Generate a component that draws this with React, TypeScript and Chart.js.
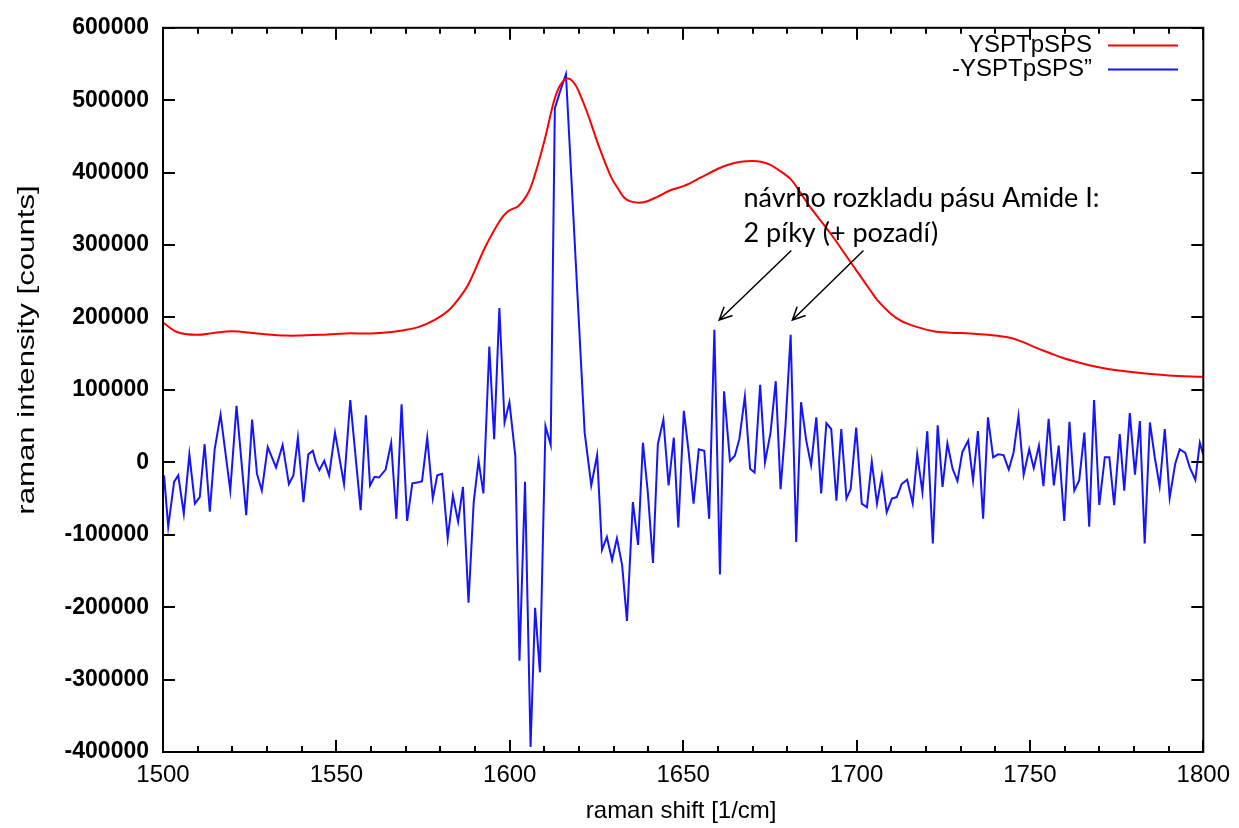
import React, { useEffect, useRef } from 'react';
import { Chart, registerables } from 'chart.js';

Chart.register(...registerables);

// ---- data ----
const seriesLabels = ['YSPTpSPS', '-YSPTpSPS\u201D'];
const seriesColors = ['rgb(255,0,0)', 'rgb(20,20,255)'];

const redX = [1500, 1504, 1509.7, 1515, 1520, 1527, 1535.5, 1545, 1552.7, 1560, 1566, 1569, 1573.8, 1578.5, 1582.4, 1585.3, 1588.2, 1592.9, 1597.2, 1599.6, 1602.5, 1605.4, 1607.3, 1610.2, 1613, 1615, 1616.9, 1618.8, 1620.7, 1623, 1625.5, 1629.3, 1631.2, 1633.1, 1635, 1638.5, 1642.7, 1646, 1650.4, 1655, 1659.9, 1663, 1666.6, 1670, 1672.4, 1675, 1677.1, 1681, 1684, 1686.7, 1692.5, 1698.2, 1703.9, 1706, 1709.7, 1713, 1717.3, 1722.2, 1727, 1732.8, 1738, 1744.2, 1748, 1751.9, 1755.7, 1759.6, 1764, 1769.1, 1775, 1782.5, 1790, 1800];
const redY = [193000, 180000, 176000, 179000, 181000, 178000, 175000, 176000, 178000, 178000, 180000, 182000, 187000, 197000, 210000, 226000, 247000, 297000, 334000, 347000, 354000, 373000, 398000, 448000, 503000, 524000, 530000, 522000, 503000, 474000, 439000, 393000, 378000, 365000, 360000, 359000, 367000, 375000, 382000, 393000, 405000, 411000, 415000, 416000, 415000, 411000, 405000, 391000, 371000, 352000, 316000, 277000, 238000, 224000, 206000, 195000, 187000, 181000, 179000, 178000, 176000, 172000, 166000, 158000, 151000, 144000, 138000, 132000, 127000, 123000, 120000, 118000];

const blueX = [1500.3, 1501.5, 1503.2, 1504.4, 1506.0, 1507.6, 1509.2, 1510.6, 1512.0, 1513.5, 1514.9, 1516.6, 1519.4, 1521.2, 1524.0, 1525.7, 1527.1, 1528.5, 1530.2, 1532.6, 1534.5, 1536.3, 1537.6, 1538.9, 1540.5, 1541.9, 1543.2, 1544.1, 1545.1, 1546.5, 1547.9, 1549.6, 1552.2, 1554.0, 1557.0, 1558.5, 1559.7, 1561.0, 1562.3, 1564.2, 1565.8, 1567.3, 1568.8, 1570.4, 1571.9, 1573.3, 1574.7, 1576.2, 1577.8, 1579.1, 1580.5, 1582.1, 1583.6, 1585.1, 1586.5, 1588.1, 1589.6, 1591.0, 1592.4, 1594.1, 1595.5, 1597.0, 1598.5, 1599.9, 1601.6, 1602.8, 1604.4, 1606.0, 1607.3, 1608.7, 1610.3, 1611.8, 1613.0, 1614.5, 1616.2, 1621.6, 1623.5, 1625.2, 1626.6, 1628.0, 1629.5, 1630.9, 1632.4, 1633.8, 1635.5, 1637.0, 1638.4, 1639.8, 1641.3, 1642.7, 1644.3, 1645.8, 1647.3, 1648.6, 1650.2, 1651.6, 1653.0, 1654.5, 1656.1, 1657.5, 1659.0, 1660.6, 1661.8, 1663.5, 1664.9, 1666.2, 1667.8, 1669.3, 1670.6, 1672.2, 1673.6, 1675.2, 1676.7, 1678.1, 1679.5, 1681.0, 1682.6, 1684.0, 1685.5, 1686.9, 1688.4, 1689.8, 1691.3, 1692.7, 1694.2, 1695.6, 1697.1, 1698.3, 1699.9, 1701.5, 1703.0, 1704.4, 1705.9, 1707.3, 1708.7, 1710.2, 1711.6, 1713.0, 1714.6, 1716.2, 1717.5, 1719.0, 1720.4, 1722.0, 1723.4, 1724.8, 1726.2, 1727.7, 1729.1, 1730.5, 1732.2, 1733.6, 1735.0, 1736.5, 1737.9, 1739.4, 1740.8, 1742.4, 1743.9, 1745.3, 1746.7, 1748.2, 1749.8, 1751.1, 1752.6, 1753.9, 1755.4, 1756.9, 1758.3, 1759.9, 1761.4, 1762.8, 1764.2, 1765.7, 1767.1, 1768.5, 1770.0, 1771.6, 1772.9, 1774.3, 1775.9, 1777.2, 1778.8, 1780.3, 1781.7, 1783.1, 1784.6, 1786.0, 1787.4, 1788.9, 1790.3, 1791.9, 1793.2, 1794.8, 1796.1, 1797.7, 1799.0, 1800.0];
const blueY = [-18000, -89000, -27000, -18000, -71000, 11000, -57000, -48000, 25000, -68000, 18000, 66000, -39000, 78000, -73000, 59000, -16000, -39000, 21000, -7000, 24000, -30000, -18000, 34000, -55000, 11000, 16000, 0, -11000, 2000, -18000, 41000, -30000, 86000, -66000, 65000, -32000, -20000, -21000, -10000, 27000, -78000, 80000, -81000, -29000, -28000, -26000, 34000, -50000, -18000, -16000, -105000, -46000, -82000, -34000, -194000, -55000, 2000, -43000, 160000, 32000, 213000, 55000, 83000, 9000, -274000, -27000, -393000, -201000, -290000, 50000, 24000, 489000, 512000, 536000, 41000, -32000, 10000, -121000, -103000, -135000, -105000, -142000, -219000, -55000, -114000, 27000, -41000, -139000, 25000, 59000, -32000, 34000, -90000, 71000, 14000, -57000, 18000, 16000, -78000, 183000, -155000, 98000, 2000, 9000, 32000, 91000, -9000, -14000, 107000, 0, 41000, 112000, -37000, 50000, 176000, -110000, 83000, 30000, -4000, 62000, -43000, 54000, 46000, -53000, 46000, -50000, -37000, 48000, -57000, -62000, 1000, -57000, -18000, -69000, -50000, -48000, -30000, -24000, -57000, 11000, -41000, 43000, -112000, 51000, -34000, 26000, -9000, -26000, 14000, 30000, -25000, 43000, -78000, 62000, 7000, 11000, 10000, -10000, 14000, 64000, -17000, 18000, -8000, 23000, -33000, 60000, -32000, 23000, -81000, 56000, -39000, -25000, 41000, -89000, 86000, -59000, 7000, 7000, -59000, 39000, -39000, 68000, -17000, 57000, -112000, 55000, 7000, -33000, 46000, -49000, -2000, 18000, 13000, -7000, -24000, 27000, 10000];

const xRange = [1500, 1800];
const yRange = [-400000, 600000];
const xMajorStep = 50;
const xMinorStep = 10;
const yMajorStep = 100000;

const xTitle = 'raman shift [1/cm]';
const yTitle = 'raman intensity [counts]';
const annotationLines = ['n\u00E1vrho rozkladu p\u00E1su Amide I:', '2 p\u00EDky (+ pozad\u00ED)'];

const FONT = '"Liberation Sans", Arial, sans-serif';

const decorPlugin = {
  id: 'decor',
  afterDatasetsDraw(chart: any) {
    const { ctx, chartArea: a, scales } = chart;
    const xs = scales.x;
    const ys = scales.y;
    ctx.save();
    // frame
    ctx.strokeStyle = '#000';
    ctx.lineWidth = 2;
    ctx.strokeRect(a.left, a.top, a.right - a.left, a.bottom - a.top);
    // ticks (inward, mirrored)
    const major = 12;
    const minor = 6;
    ctx.beginPath();
    xs.ticks.forEach((t: any) => {
      const px = Math.round(xs.getPixelForValue(t.value));
      ctx.moveTo(px, a.bottom); ctx.lineTo(px, a.bottom - major);
      ctx.moveTo(px, a.top); ctx.lineTo(px, a.top + major);
    });
    for (let v = xs.min; v <= xs.max + 1e-6; v += xMinorStep) {
      if (Math.abs(v / xMajorStep - Math.round(v / xMajorStep)) < 1e-6) continue;
      const px = Math.round(xs.getPixelForValue(v));
      ctx.moveTo(px, a.bottom); ctx.lineTo(px, a.bottom - minor);
      ctx.moveTo(px, a.top); ctx.lineTo(px, a.top + minor);
    }
    ys.ticks.forEach((t: any) => {
      const py = Math.round(ys.getPixelForValue(t.value));
      ctx.moveTo(a.left, py); ctx.lineTo(a.left + major, py);
      ctx.moveTo(a.right, py); ctx.lineTo(a.right - major, py);
    });
    ctx.stroke();

    // axis titles
    ctx.fillStyle = '#000';
    ctx.font = `24px ${FONT}`;
    ctx.textAlign = 'center';
    ctx.textBaseline = 'middle';
    ctx.fillText(xTitle, (a.left + a.right) / 2 - 2, 811);
    ctx.save();
    ctx.translate(27, 350);
    ctx.rotate(-Math.PI / 2);
    ctx.scale(1.3, 1);
    ctx.fillText(yTitle, 0, 0);
    ctx.restore();

    // legend (gnuplot style: right-aligned text, sample on the right)
    chart.data.datasets.forEach((ds: any, i: number) => {
      const y = 45 + i * 24;
      ctx.textAlign = 'right';
      ctx.textBaseline = 'middle';
      ctx.fillStyle = '#000';
      ctx.font = `24px ${FONT}`;
      ctx.fillText(ds.label, 1092, y);
      ctx.strokeStyle = ds.borderColor;
      ctx.lineWidth = 2;
      ctx.beginPath();
      ctx.moveTo(1108, y + 0.5);
      ctx.lineTo(1178, y + 0.5);
      ctx.stroke();
    });

    // annotation
    ctx.fillStyle = '#000';
    ctx.font = `27px Lato, "Open Sans", sans-serif`;
    ctx.textAlign = 'left';
    ctx.textBaseline = 'alphabetic';
    const tx = xs.getPixelForValue(1667.4);
    ctx.fillText(annotationLines[0], tx, ys.getPixelForValue(352700));
    ctx.fillText(annotationLines[1], tx, ys.getPixelForValue(304700));

    const arrows = [
      [1681.2, 292600, 1660.4, 196600],
      [1702.0, 292600, 1681.5, 196600],
    ];
    ctx.strokeStyle = '#000';
    ctx.lineWidth = 1.5;
    arrows.forEach(([x1, y1, x2, y2]) => {
      const p1x = xs.getPixelForValue(x1), p1y = ys.getPixelForValue(y1);
      const p2x = xs.getPixelForValue(x2), p2y = ys.getPixelForValue(y2);
      const ang = Math.atan2(p2y - p1y, p2x - p1x);
      const L = 14, spread = 0.45;
      ctx.beginPath();
      ctx.moveTo(p1x, p1y); ctx.lineTo(p2x, p2y);
      ctx.moveTo(p2x - L * Math.cos(ang - spread), p2y - L * Math.sin(ang - spread));
      ctx.lineTo(p2x, p2y);
      ctx.lineTo(p2x - L * Math.cos(ang + spread), p2y - L * Math.sin(ang + spread));
      ctx.stroke();
    });
    ctx.restore();
  },
};

export default function App() {
  const ref = useRef<HTMLCanvasElement | null>(null);
  useEffect(() => {
    document.body.style.margin = '0';
    if (!ref.current) return;
    const chart = new Chart(ref.current, {
      type: 'line',
      data: {
        datasets: [
          {
            label: seriesLabels[0],
            data: redX.map((x, i) => ({ x, y: redY[i] })),
            borderColor: seriesColors[0],
            borderWidth: 2,
            pointRadius: 0,
            tension: 0.35,
            fill: false,
          },
          {
            label: seriesLabels[1],
            data: blueX.map((x, i) => ({ x, y: blueY[i] })),
            borderColor: seriesColors[1],
            borderWidth: 2,
            pointRadius: 0,
            tension: 0,
            fill: false,
          },
        ],
      },
      options: {
        animation: false,
        responsive: false,
        devicePixelRatio: 1,
        layout: { padding: { left: 0, top: 23, right: 31, bottom: 0 } },
        plugins: { legend: { display: false }, tooltip: { enabled: false }, title: { display: false } },
        scales: {
          x: {
            type: 'linear',
            min: xRange[0],
            max: xRange[1],
            grid: { display: false, drawTicks: false },
            border: { display: false },
            ticks: {
              stepSize: xMajorStep,
              color: '#000',
              padding: 9,
              maxRotation: 0,
              font: { family: FONT, size: 24 },
              callback: (v: any) => String(v),
            },
            afterFit: (s: any) => { s.height = 76; },
          },
          y: {
            type: 'linear',
            min: yRange[0],
            max: yRange[1],
            grid: { display: false, drawTicks: false },
            border: { display: false },
            ticks: {
              stepSize: yMajorStep,
              color: '#000',
              padding: 14,
              font: { family: FONT, size: 23, weight: 'bold' },
              callback: (v: any) => String(v),
            },
            afterFit: (s: any) => { s.width = 163; },
          },
        },
      },
      plugins: [decorPlugin],
    });
    return () => chart.destroy();
  }, []);
  return <canvas ref={ref} width={1239} height={828} style={{ display: 'block' }} />;
}
